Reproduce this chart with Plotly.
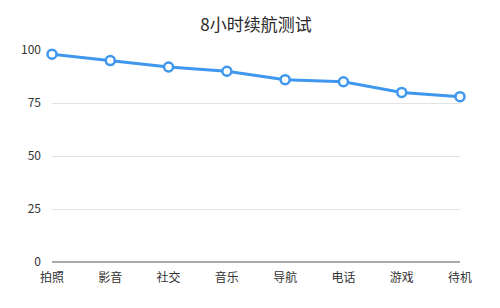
import plotly.graph_objects as go

categories = ["拍照", "影音", "社交", "音乐", "导航", "电话", "游戏", "待机"]
values = [98, 95, 92, 90, 86, 85, 80, 78]
y_ticks = [0, 25, 50, 75, 100]

fig = go.Figure(go.Scatter(
    x=categories, y=values, mode="lines+markers",
    line=dict(color="#3f97ee", width=3),
    marker=dict(size=9, color="white", line=dict(color="#3f97ee", width=2.5)),
    cliponaxis=False,
))

font = "Noto Sans CJK SC"
fig.update_layout(
    width=500, height=308,
    margin=dict(l=52, r=40, t=50, b=46),
    paper_bgcolor="white", plot_bgcolor="white",
    title=dict(text="8小时续航测试", x=0.512, xanchor="center", y=0.918, yanchor="middle",
               font=dict(family=font, size=17, color="#2a2a2a")),
    showlegend=False,
    font=dict(family=font, color="#333333", size=12),
)
fig.update_xaxes(type="category", range=[0, 7], showgrid=False, showline=False, zeroline=False,
                 ticks="", tickfont=dict(size=12, color="#333333"), ticklabelstandoff=7)
fig.update_yaxes(range=[0, 100], tickvals=y_ticks, showgrid=True, gridcolor="#e3e3e3",
                 gridwidth=1, zeroline=True, zerolinecolor="#aaaaaa", zerolinewidth=1.5,
                 ticks="", tickfont=dict(size=12, color="#333333"), ticklabelstandoff=10)

fig.write_html("out.html")
